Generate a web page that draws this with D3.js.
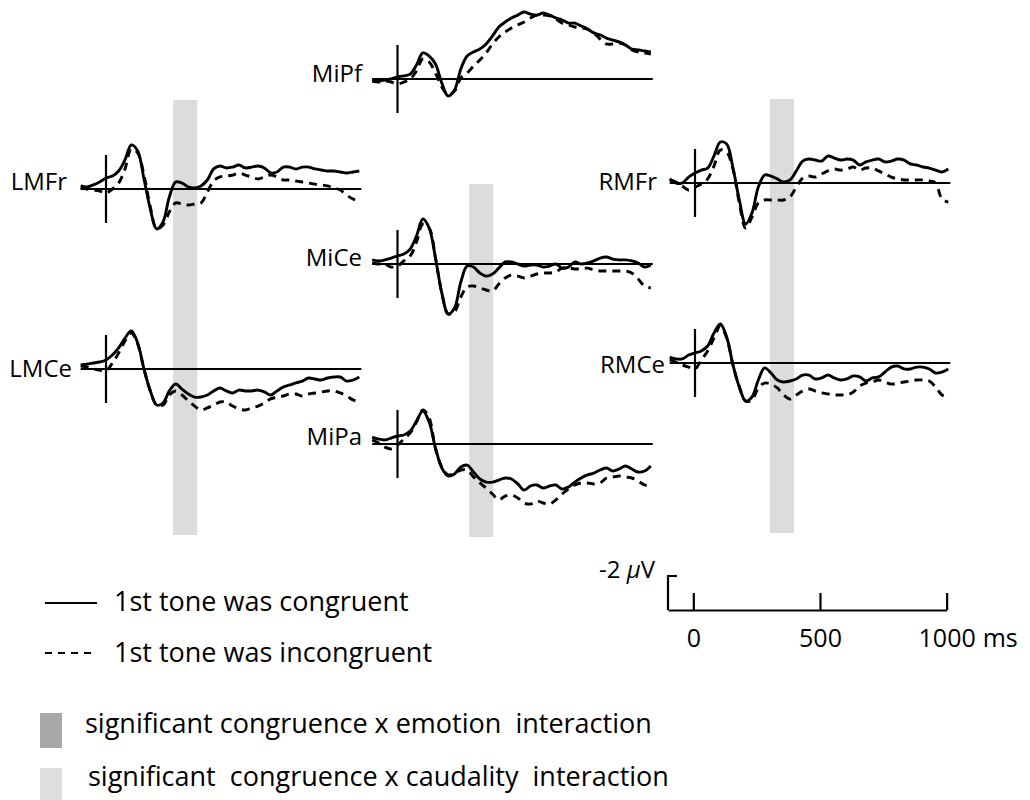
<!DOCTYPE html>
<html>
<head>
<meta charset="utf-8">
<script src="https://cdn.jsdelivr.net/npm/d3@7"></script>
<style>
  body { margin: 0; background: #fff; }
  svg text { font-family: "Open Sans", "Noto Sans", sans-serif; fill: #000; white-space: pre; }
</style>
</head>
<body>
<svg id="chart" width="1030" height="800"></svg>
<script>
// ---------------- DATA ----------------
const timesMs = [-100,-75,-50,-25,0,25,50,75,100,125,150,175,200,225,250,275,300,325,350,375,400,425,450,475,500,525,550,575,600,625,650,675,700,725,750,775,800,825,850,875,900,925,950,975,1000];

const channelNames = ["MiPf", "LMFr", "RMFr", "MiCe", "LMCe", "RMCe", "MiPa"];

// amplitudes in microvolts (negative plotted upward)
const congruentMiPf = [0.12,0.12,0.06,0,-0.12,-0.18,-0.29,-0.82,-1.53,-1.35,-0.88,0.24,1.0,0.65,-0.59,-1.35,-1.59,-1.76,-2.06,-2.53,-3.06,-3.35,-3.59,-3.76,-3.94,-3.82,-3.76,-3.88,-3.76,-3.59,-3.47,-3.29,-3.29,-3.12,-2.94,-2.71,-2.59,-2.41,-2.29,-2.18,-2.0,-1.76,-1.71,-1.65,-1.59];
const incongruentMiPf = [0.12,0.18,0.12,0.18,0.29,0.18,0,-0.47,-1.18,-1.0,-0.35,0.47,0.94,0.71,-0.06,-0.35,-0.76,-1.12,-1.53,-2.06,-2.47,-2.76,-3.0,-3.18,-3.35,-3.59,-3.76,-3.76,-3.71,-3.53,-3.29,-3.18,-3.06,-3.0,-2.94,-2.71,-2.35,-2.06,-2.06,-2.12,-2.0,-1.71,-1.59,-1.53,-1.47];

const congruentLMFr = [-0.18,-0.12,-0.24,-0.41,-0.65,-0.76,-1.06,-1.71,-2.59,-2.24,-0.59,1.18,2.35,1.94,0.47,-0.41,-0.35,-0.12,-0.06,-0.18,-0.53,-1.18,-1.35,-1.24,-1.29,-1.41,-1.24,-1.29,-1.35,-1.24,-0.94,-1.0,-1.29,-1.29,-1.18,-1.29,-1.29,-1.18,-1.12,-1.06,-1.06,-1.0,-0.94,-1.0,-1.06];
const incongruentLMFr = [-0.06,0,0.06,0.12,0.24,0,-0.35,-1.18,-2.35,-2.12,-0.82,1.06,2.35,2.12,1.35,0.82,0.88,0.94,0.88,0.82,0.18,-0.47,-0.71,-0.76,-0.82,-0.94,-0.82,-0.71,-0.59,-0.71,-0.82,-0.71,-0.53,-0.53,-0.47,-0.41,-0.35,-0.29,-0.24,-0.18,-0.06,0.06,0.35,0.59,0.71];

const congruentRMFr = [-0.24,0,0,-0.35,-0.59,-0.76,-0.88,-1.59,-2.41,-2.29,-0.88,1.0,2.41,1.76,0.24,-0.47,-0.41,-0.24,-0.06,-0.18,-0.71,-1.29,-1.41,-1.35,-1.29,-1.59,-1.47,-1.35,-1.41,-1.35,-1.06,-1.24,-1.35,-1.41,-1.24,-1.29,-1.41,-1.35,-1.12,-1.06,-0.94,-0.88,-0.76,-0.65,-0.82];
const incongruentRMFr = [-0.18,-0.06,0.18,0.41,0.24,0.06,-0.24,-1.0,-1.94,-1.82,-0.82,1.18,2.65,2.0,1.18,1.0,1.0,1.0,1.0,0.82,0.24,-0.29,-0.41,-0.35,-0.53,-0.71,-0.82,-0.76,-0.82,-0.94,-0.76,-0.88,-0.88,-0.71,-0.53,-0.35,-0.24,-0.18,-0.18,-0.18,-0.18,-0.12,0,0.94,1.12];

const congruentMiCe = [-0.24,-0.18,-0.24,-0.35,-0.47,-0.59,-0.88,-1.65,-2.65,-2.12,-0.35,1.71,2.94,2.59,1.06,0.12,0.18,0.53,0.71,0.59,0.24,-0.12,-0.12,0,0.12,0.06,0.06,0.18,0.12,0,0.24,0.18,-0.12,0,-0.06,-0.18,-0.35,-0.41,-0.29,-0.24,-0.24,-0.18,-0.06,0.18,0.06];
const incongruentMiCe = [-0.06,0,0,0.18,0.12,-0.18,-0.47,-1.29,-2.35,-2.12,-0.35,1.71,2.94,2.82,1.94,1.35,1.29,1.41,1.53,1.59,1.18,0.82,0.65,0.71,0.82,0.71,0.59,0.53,0.53,0.47,0.24,0.24,0.29,0.29,0.24,0.35,0.41,0.41,0.41,0.41,0.41,0.53,0.88,1.29,1.41];

const congruentLMCe = [-0.24,-0.29,-0.35,-0.41,-0.53,-0.82,-1.24,-1.82,-2.24,-1.53,0,1.29,2.12,2.0,1.29,0.88,1.18,1.47,1.65,1.65,1.53,1.29,1.12,1.29,1.41,1.24,1.29,1.29,1.24,1.35,1.53,1.29,1.06,0.94,0.82,0.71,0.53,0.59,0.65,0.53,0.47,0.47,0.71,0.65,0.47];
const incongruentLMCe = [-0.18,-0.12,0,0.06,0.12,-0.35,-0.94,-1.65,-2.12,-1.47,0,1.29,2.12,2.12,1.53,1.29,1.53,1.88,2.18,2.41,2.29,2.12,1.94,1.94,2.18,2.35,2.41,2.29,2.18,2.0,1.76,1.65,1.59,1.47,1.47,1.59,1.47,1.41,1.35,1.29,1.29,1.41,1.59,1.82,1.94];

const congruentRMCe = [-0.35,-0.24,-0.24,-0.47,-0.59,-0.71,-1.0,-1.76,-2.29,-1.53,0.12,1.41,2.24,2.0,1.0,0.29,0.59,1.0,1.12,1.06,0.94,0.71,0.71,0.94,0.88,0.71,0.88,1.0,0.94,0.76,0.82,1.06,0.88,0.82,0.53,0.24,0.18,0.35,0.35,0.24,0.24,0.35,0.59,0.53,0.35];
const incongruentRMCe = [-0.18,-0.06,0.12,0.24,0.35,-0.18,-0.71,-1.47,-2.18,-1.47,0.12,1.41,2.24,2.18,1.47,1.18,1.24,1.47,1.88,2.12,1.88,1.65,1.53,1.65,1.76,1.82,1.88,1.88,1.88,1.71,1.35,1.18,1.12,1.0,1.12,1.24,1.18,1.12,1.06,1.0,1.0,1.06,1.41,1.88,2.0];

const congruentMiPa = [-0.41,-0.29,-0.24,-0.35,-0.47,-0.53,-0.76,-1.35,-1.94,-1.29,0.24,1.41,1.88,1.76,1.35,1.24,1.65,2.06,2.24,2.24,2.12,2.0,2.06,2.35,2.71,2.47,2.41,2.59,2.47,2.41,2.65,2.53,2.24,2.0,1.82,1.71,1.53,1.41,1.59,1.47,1.29,1.47,1.65,1.59,1.29];
const incongruentMiPa = [-0.24,-0.06,0.18,0.29,0.06,-0.29,-0.65,-1.29,-2.0,-1.53,0.29,1.35,1.82,1.71,1.53,1.53,1.94,2.29,2.59,2.94,3.29,3.06,3.0,3.18,3.47,3.53,3.35,3.47,3.53,3.29,2.94,2.65,2.41,2.29,2.29,2.35,2.29,2.0,1.94,1.88,1.94,2.0,2.18,2.41,2.47];

// significant congruence x caudality windows (ms), one per electrode column
const caudalityWindowLeft  = [265, 360];
const caudalityWindowMid   = [283, 378];
const caudalityWindowRight = [296, 391];

const conditionLabels = ["1st tone was congruent", "1st tone was incongruent"];
const interactionLabels = ["significant congruence x emotion  interaction", "significant  congruence x caudality  interaction"];
const scaleTicksMs = [0, 500, 1000];
const scaleBarMicroV = -2;

// ---------------- LAYOUT ----------------
const PX_PER_MS = 0.2533;
const PX_PER_UV = 17;
const panelLayout = {
  MiPf: { x0: 397.5, y0: 79,  lx: 362, ly: 82 },
  LMFr: { x0: 106,   y0: 189, lx: 67,  ly: 190 },
  RMFr: { x0: 695,   y0: 183, lx: 657, ly: 190 },
  MiCe: { x0: 397.5, y0: 264, lx: 362, ly: 266 },
  LMCe: { x0: 106,   y0: 369, lx: 72,  ly: 377 },
  RMCe: { x0: 695,   y0: 363, lx: 665, ly: 373 },
  MiPa: { x0: 397.5, y0: 444, lx: 362, ly: 445 }
};
const seriesByChannel = {
  MiPf: [congruentMiPf, incongruentMiPf],
  LMFr: [congruentLMFr, incongruentLMFr],
  RMFr: [congruentRMFr, incongruentRMFr],
  MiCe: [congruentMiCe, incongruentMiCe],
  LMCe: [congruentLMCe, incongruentLMCe],
  RMCe: [congruentRMCe, incongruentRMCe],
  MiPa: [congruentMiPa, incongruentMiPa]
};
const bandLayout = [
  { win: caudalityWindowLeft,  x0: 106,   top: 100, bottom: 535 },
  { win: caudalityWindowMid,   x0: 397.5, top: 184, bottom: 537 },
  { win: caudalityWindowRight, x0: 695,   top: 99,  bottom: 533 }
];

const svg = d3.select("#chart");

function xScaleFor(x0) {
  return d3.scaleLinear().domain([-100, 1000]).range([x0 - 100 * PX_PER_MS, x0 + 1000 * PX_PER_MS]);
}
function yScaleFor(y0) {
  return d3.scaleLinear().domain([0, 1]).range([y0, y0 + PX_PER_UV]);
}

// gray bands
svg.append("g").selectAll("rect").data(bandLayout).join("rect")
  .attr("x", d => xScaleFor(d.x0)(d.win[0]))
  .attr("width", d => xScaleFor(d.x0)(d.win[1]) - xScaleFor(d.x0)(d.win[0]))
  .attr("y", d => d.top)
  .attr("height", d => d.bottom - d.top)
  .attr("fill", "#dcdcdc");

// panels
channelNames.forEach(name => {
  const L = panelLayout[name];
  const x = xScaleFor(L.x0);
  const y = yScaleFor(L.y0);
  const g = svg.append("g");
  g.append("line")
    .attr("x1", x(-100)).attr("x2", x(1000) + 2)
    .attr("y1", y(0)).attr("y2", y(0))
    .attr("stroke", "#000").attr("stroke-width", 2.2);
  g.append("line")
    .attr("x1", x(0)).attr("x2", x(0))
    .attr("y1", y(-2)).attr("y2", y(2))
    .attr("stroke", "#000").attr("stroke-width", 2.2);
  const line = d3.line()
    .x((d, i) => x(timesMs[i]))
    .y(d => y(d))
    .curve(d3.curveCatmullRom.alpha(0.5));
  const [con, inc] = seriesByChannel[name];
  g.append("path").attr("d", line(inc))
    .attr("fill", "none").attr("stroke", "#000").attr("stroke-width", 2.9)
    .attr("stroke-dasharray", "8,6");
  g.append("path").attr("d", line(con))
    .attr("fill", "none").attr("stroke", "#000").attr("stroke-width", 2.9);
  g.append("text").attr("x", L.lx).attr("y", L.ly)
    .attr("text-anchor", "end").attr("font-size", 24).text(name);
});

// scale bar
const scaleX = d3.scaleLinear().domain([-100, 1000]).range([668, 668 + 1100 * PX_PER_MS]);
const scaleY = d3.scaleLinear().domain([0, 1]).range([610, 610 + PX_PER_UV]);
const axis = d3.axisBottom(scaleX).tickValues(scaleTicksMs)
  .tickSizeInner(-PX_PER_UV).tickSizeOuter(0).tickPadding(19)
  .tickFormat(d3.format("d"));
const ax = svg.append("g").attr("transform", `translate(0,${scaleY(0)})`).call(axis);
ax.select(".domain").attr("stroke", "#000").attr("stroke-width", 2.2);
ax.selectAll(".tick line").attr("stroke", "#000").attr("stroke-width", 2.2);
ax.selectAll(".tick text").attr("font-size", 25).attr("font-family", "Open Sans").attr("fill", "#000");
svg.append("text").attr("x", scaleX(1000) + 36).attr("y", 647).attr("font-size", 25).text("ms");
svg.append("path")
  .attr("d", `M${scaleX(-100)},${scaleY(0)}V${scaleY(scaleBarMicroV)}h9`)
  .attr("fill", "none").attr("stroke", "#000").attr("stroke-width", 2.2);
const uvLabel = svg.append("text").attr("x", 655).attr("y", 578).attr("text-anchor", "end").attr("font-size", 24);
uvLabel.append("tspan").text(scaleBarMicroV + " ");
uvLabel.append("tspan").attr("font-style", "italic").text("μ");
uvLabel.append("tspan").text("V");

// legend: conditions
const condLegend = svg.append("g").selectAll("g").data(conditionLabels).join("g")
  .attr("transform", (d, i) => `translate(0,${603 + i * 50})`);
condLegend.append("line")
  .attr("x1", 45).attr("x2", (d, i) => i === 0 ? 97 : 92)
  .attr("y1", 0).attr("y2", 0)
  .attr("stroke", "#000").attr("stroke-width", 2.2)
  .attr("stroke-dasharray", (d, i) => i === 0 ? null : "7,6");
condLegend.append("text").attr("x", 114).attr("y", (d, i) => i === 0 ? 8 : 9)
  .attr("font-size", 27).text(d => d);

// legend: interactions
const interColors = ["#a8a8a8", "#dedede"];
const interLegend = svg.append("g").selectAll("g").data(interactionLabels).join("g")
  .attr("transform", (d, i) => `translate(0,${713 + i * 55})`);
interLegend.append("rect").attr("x", 40).attr("y", 0).attr("width", 22).attr("height", 35)
  .attr("fill", (d, i) => interColors[i]);
interLegend.append("text").attr("x", (d, i) => i === 0 ? 85 : 88).attr("y", (d, i) => i === 0 ? 20 : 18)
  .attr("font-size", 27).text(d => d);
</script>
</body>
</html>
